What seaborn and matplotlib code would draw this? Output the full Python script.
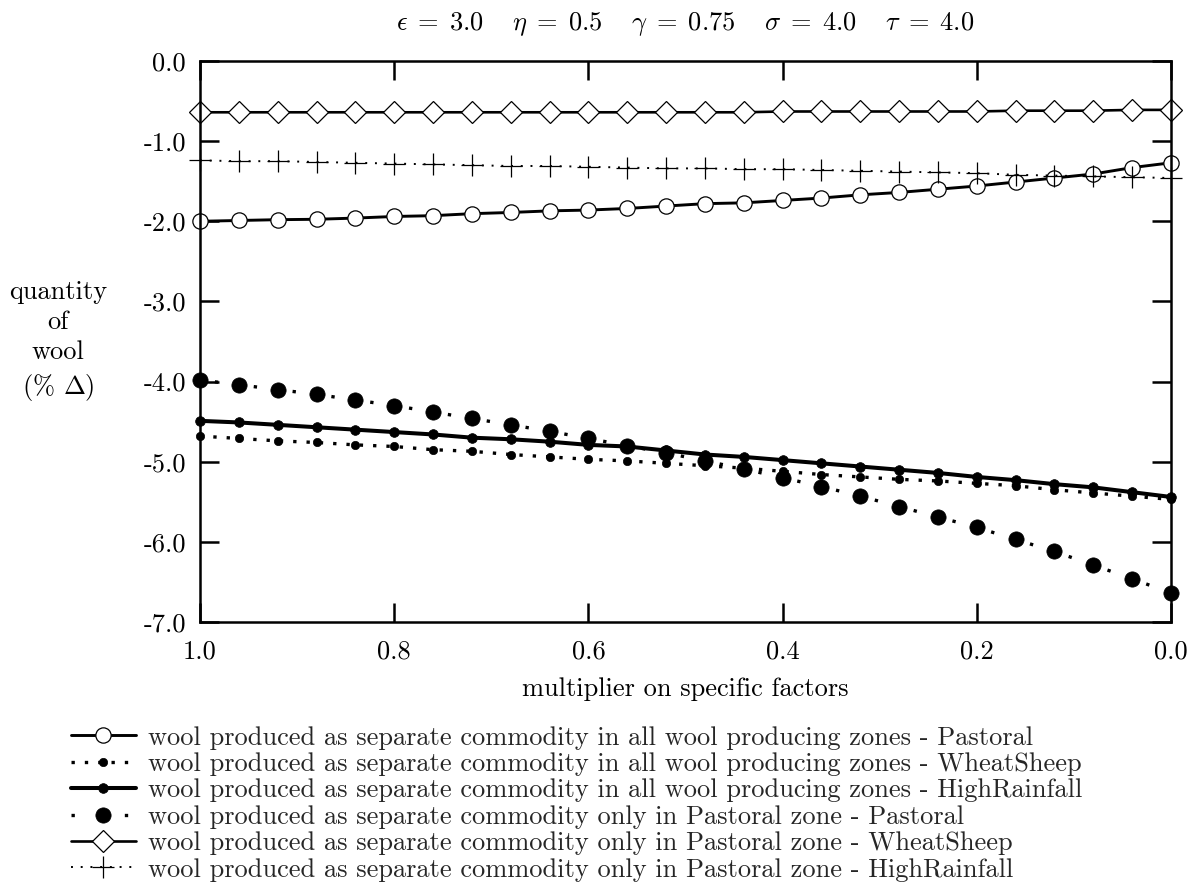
import matplotlib
matplotlib.use("Agg")
import matplotlib.pyplot as plt
from matplotlib.lines import Line2D
import seaborn as sns
import pandas as pd

multiplier = [1.00, 0.96, 0.92, 0.88, 0.84, 0.80, 0.76, 0.72, 0.68, 0.64, 0.60, 0.56, 0.52,
              0.48, 0.44, 0.40, 0.36, 0.32, 0.28, 0.24, 0.20, 0.16, 0.12, 0.08, 0.04, 0.00]

pastoral_all = [-2.00, -1.99, -1.98, -1.975, -1.96, -1.94, -1.93, -1.905, -1.89, -1.87, -1.86, -1.84, -1.81,
                -1.78, -1.77, -1.74, -1.71, -1.67, -1.64, -1.60, -1.56, -1.51, -1.46, -1.41, -1.33, -1.27]
wheat_all = [-4.68, -4.71, -4.74, -4.76, -4.79, -4.81, -4.85, -4.87, -4.91, -4.94, -4.97, -4.99, -5.02,
             -5.05, -5.08, -5.12, -5.16, -5.19, -5.22, -5.24, -5.27, -5.30, -5.35, -5.39, -5.43, -5.47]
high_all = [-4.49, -4.51, -4.54, -4.57, -4.60, -4.63, -4.66, -4.70, -4.72, -4.75, -4.79, -4.81, -4.86,
            -4.91, -4.94, -4.98, -5.02, -5.06, -5.10, -5.14, -5.19, -5.23, -5.28, -5.32, -5.38, -5.44]
pastoral_only = [-3.98, -4.04, -4.10, -4.16, -4.23, -4.30, -4.38, -4.46, -4.54, -4.62, -4.71, -4.80, -4.89,
                 -4.99, -5.09, -5.20, -5.31, -5.43, -5.56, -5.69, -5.82, -5.97, -6.12, -6.29, -6.46, -6.64]
wheat_only = [-0.64, -0.64, -0.64, -0.64, -0.64, -0.64, -0.64, -0.64, -0.64, -0.64, -0.64, -0.64, -0.64,
              -0.64, -0.64, -0.63, -0.63, -0.63, -0.63, -0.63, -0.63, -0.62, -0.62, -0.62, -0.61, -0.61]
high_only = [-1.24, -1.25, -1.25, -1.26, -1.27, -1.28, -1.29, -1.30, -1.31, -1.31, -1.32, -1.33, -1.34,
             -1.34, -1.35, -1.35, -1.36, -1.37, -1.38, -1.39, -1.40, -1.42, -1.43, -1.44, -1.45, -1.46]

labels = [
    "wool produced as separate commodity in all wool producing zones - Pastoral",
    "wool produced as separate commodity in all wool producing zones - WheatSheep",
    "wool produced as separate commodity in all wool producing zones - HighRainfall",
    "wool produced as separate commodity only in Pastoral zone - Pastoral",
    "wool produced as separate commodity only in Pastoral zone - WheatSheep",
    "wool produced as separate commodity only in Pastoral zone - HighRainfall",
]
series_values = [pastoral_all, wheat_all, high_all, pastoral_only, wheat_only, high_only]

x_ticks = [1.0, 0.8, 0.6, 0.4, 0.2, 0.0]
x_ticklabels = ["1.0", "0.8", "0.6", "0.4", "0.2", "0.0"]
y_ticks = [0.0, -1.0, -2.0, -3.0, -4.0, -5.0, -6.0, -7.0]
y_ticklabels = ["0.0", "-1.0", "-2.0", "-3.0", "-4.0", "-5.0", "-6.0", "-7.0"]

sns.set_theme(style="ticks")
plt.rcParams["font.family"] = ["cmr10", "DejaVu Serif"]
plt.rcParams["mathtext.fontset"] = "cm"
plt.rcParams["axes.unicode_minus"] = False
plt.rcParams["axes.formatter.use_mathtext"] = True

FS = 19

rows = []
for lab, vals in zip(labels, series_values):
    for xv, yv in zip(multiplier, vals):
        rows.append({"series": lab, "x": xv, "y": yv})
df = pd.DataFrame(rows)

styles = [
    dict(linestyle="-", linewidth=2.1, marker="o", markersize=11, markerfacecolor="white",
         markeredgecolor="black", markeredgewidth=0.9),
    dict(linestyle=(0, (1, 3)), linewidth=2.4, marker="o", markersize=6, markerfacecolor="black",
         markeredgecolor="black", markeredgewidth=0.5),
    dict(linestyle="-", linewidth=2.9, marker="o", markersize=7, markerfacecolor="black",
         markeredgecolor="black", markeredgewidth=0.5),
    dict(linestyle="none", linewidth=2.4, marker="o", markersize=11, markerfacecolor="black",
         markeredgecolor="black", markeredgewidth=0.5),
    dict(linestyle="-", linewidth=1.9, marker="D", markersize=11, markerfacecolor="white",
         markeredgecolor="black", markeredgewidth=0.9),
    dict(linestyle=(0, (1, 4)), linewidth=1.4, marker="+", markersize=16, markerfacecolor="black",
         markeredgecolor="black", markeredgewidth=0.9),
]

fig = plt.figure(figsize=(12, 8.86), dpi=100)
ax = fig.add_axes([200 / 1200, 1 - 622 / 886, (1171 - 200) / 1200, (622 - 61) / 886])

# sparse dotted line of the "only Pastoral - Pastoral" series, pattern restarting per segment
for i in range(len(multiplier) - 1):
    ax.plot(multiplier[i:i + 2], pastoral_only[i:i + 2], color="black", linewidth=2.4,
            linestyle=(16.5, (1, 20)), solid_capstyle="butt", dash_capstyle="butt")

for lab, st in zip(labels, styles):
    sub = df[df["series"] == lab]
    sns.lineplot(data=sub, x="x", y="y", ax=ax, color="black",
                 errorbar=None, sort=False, clip_on=False, **st)

ax.set_xlim(1.0, 0.0)
ax.set_ylim(-7.0, 0.0)
ax.set_xticks(x_ticks)
ax.set_xticklabels(x_ticklabels)
ax.set_yticks(y_ticks)
ax.set_yticklabels(y_ticklabels)
ax.tick_params(direction="in", length=14, width=1.8, labelsize=FS, top=True, right=True,
               pad=10, color="black", labelcolor="black")
ax.tick_params(axis="x", pad=13)
for sp in ax.spines.values():
    sp.set_visible(True)
    sp.set_linewidth(1.8)
    sp.set_color("black")

ax.set_xlabel("multiplier on specific factors", fontsize=FS, color="black", labelpad=10)
ax.set_ylabel("quantity\nof\nwool\n(% $\\Delta$)", fontsize=FS, rotation=0, color="black",
              ha="center", va="center", linespacing=1.35)
ax.yaxis.set_label_coords(-0.146, 0.5)

ax.set_title(r"$\epsilon\;=\;3.0\quad\;\eta\;=\;0.5\quad\;\gamma\;=\;0.75\quad\;\sigma\;=\;4.0\quad\;\tau\;=\;4.0$",
             fontsize=FS, color="black", pad=22)

handle_styles = [dict(s) for s in styles]
handle_styles[3]["linestyle"] = (0, (1, 7))
handles = [Line2D([], [], color="black", **hs) for hs in handle_styles]

leg = ax.legend(handles=handles, labels=labels, loc="upper left",
                bbox_to_anchor=(71 / 1200, 1 - 726 / 886),
                bbox_transform=fig.transFigure, frameon=False, fontsize=FS,
                handlelength=2.45, handletextpad=0.45, labelspacing=0.1, borderpad=0.0,
                borderaxespad=0.0)

fig.savefig("out.png", dpi=100)
